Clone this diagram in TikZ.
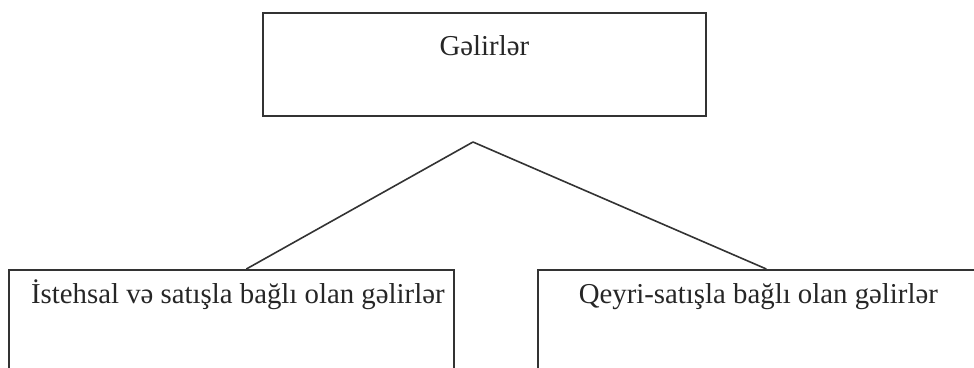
\documentclass[tikz,border=0pt]{standalone}
\usepackage{fontspec}
\setmainfont{Liberation Serif}
\usetikzlibrary{calc}
\definecolor{linegray}{HTML}{333333}
\definecolor{textgray}{HTML}{262626}
\tikzset{
  box/.style={draw=linegray, line width=1.7pt, rectangle, inner sep=0pt,
    text=textgray, font=\fontsize{28.8}{34}\selectfont, align=center},
  link/.style={draw=linegray, line width=1.6pt, line join=round}
}
\begin{document}
\begin{tikzpicture}[x=1pt,y=-1pt]
\useasboundingbox (0,0) rectangle (974,367);
\clip (0,0) rectangle (974,367);
\node[box, anchor=north west, minimum width=443pt, text height=43pt, text depth=60pt] (top) at (262,12) {Gəlirlər};
\node[box, anchor=north west, minimum width=445pt, text height=34pt, text depth=80pt] (l) at (8,269) {\hspace*{13pt}İstehsal və satışla bağlı olan gəlirlər};
\node[box, anchor=north west, minimum width=441pt, text height=34pt, text depth=80pt] (r) at (537,269) {Qeyri-satışla bağlı olan gəlirlər};
\coordinate (apex) at (473,142);
\draw[link] ($(l.north)+(15,0)$) -- (apex) -- ($(r.north)+(8,0)$);
\end{tikzpicture}
\end{document}
